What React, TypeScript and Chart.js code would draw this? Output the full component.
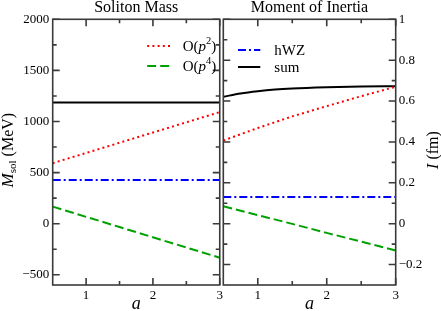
import React, { useEffect, useRef } from "react";
import { Chart, registerables } from "chart.js";
Chart.register(...registerables);

// ---------- data ----------
const A_POINTS = [0.5, 1, 1.5, 2, 2.5, 3];
const MASS_P2 = [592, 692, 792, 892, 992, 1092];
const MASS_P4 = [167, 67, -33, -133, -233, -333];
const MASS_HWZ = [428, 428, 428, 428, 428, 428];
const MASS_SUM = [1186, 1186, 1186, 1186, 1186, 1186];

const A_SUM_I = [0.5, 0.75, 1, 1.25, 1.5, 2, 2.5, 3];
const INERTIA_SUM = [0.621, 0.637, 0.648, 0.656, 0.661, 0.667, 0.671, 0.673];
const INERTIA_P2 = [0.407, 0.468, 0.525, 0.575, 0.624, 0.67];
const INERTIA_P4 = [0.085, 0.042, -0.001, -0.045, -0.088, -0.131];
const INERTIA_HWZ = [0.131, 0.131, 0.131, 0.131, 0.131, 0.131];

const X_TICKS = [1, 2, 3];
const X_MINOR = [1.5, 2.5];
const MASS_TICKS = [-500, 0, 500, 1000, 1500, 2000];
const MASS_MINOR = [-250, 250, 750, 1250, 1750];
const INERTIA_TICKS = [-0.2, 0, 0.2, 0.4, 0.6, 0.8, 1];
const INERTIA_MINOR = [-0.1, 0.1, 0.3, 0.5, 0.7, 0.9];

const TITLE_LEFT = "Soliton Mass";
const TITLE_RIGHT = "Moment of Inertia";

// ---------- styles ----------
const SERIF = "'Liberation Serif', 'Times New Roman', 'DejaVu Serif', serif";
const FRAME = "#3a3a3a";
const RED = "#ff0000";
const GREEN = "#00a000";
const BLUE = "#0000ff";
const BLACK = "#000000";
const DOT = [2, 3.2];
const DASH = [9, 4];
const DASHDOT = [8, 3, 2, 3];
const TICK_FONT = { family: SERIF, size: 13 };

const fmt = (v: number) => {
  let s: string;
  if (Number.isInteger(v)) s = String(v);
  else s = v.toFixed(1);
  return s.replace("-", "\u2212");
};

type Run = { t: string; font: string; dy?: number };

function drawRuns(ctx: CanvasRenderingContext2D, runs: Run[], x: number, y: number, center: boolean) {
  let total = 0;
  for (const r of runs) {
    ctx.font = r.font;
    total += ctx.measureText(r.t).width;
  }
  let cx = center ? x - total / 2 : x;
  for (const r of runs) {
    ctx.font = r.font;
    ctx.fillText(r.t, cx, y + (r.dy || 0));
    cx += ctx.measureText(r.t).width;
  }
}

function decorPlugin(cfg: any) {
  return {
    id: "decor",
    afterDraw(chart: any) {
      const { ctx, chartArea: ca } = chart;
      const xs = chart.scales.x;
      const ys = chart.scales.y;
      ctx.save();
      ctx.setLineDash([]);
      ctx.strokeStyle = FRAME;
      ctx.lineWidth = 1.6;
      ctx.strokeRect(ca.left, ca.top, ca.right - ca.left, ca.bottom - ca.top);
      const major = 7;
      const minor = 4;
      ctx.beginPath();
      const xt = (v: number, len: number) => {
        const px = xs.getPixelForValue(v);
        ctx.moveTo(px, ca.bottom);
        ctx.lineTo(px, ca.bottom - len);
        ctx.moveTo(px, ca.top);
        ctx.lineTo(px, ca.top + len);
      };
      const yt = (v: number, len: number) => {
        const py = ys.getPixelForValue(v);
        ctx.moveTo(ca.left, py);
        ctx.lineTo(ca.left + len, py);
        ctx.moveTo(ca.right, py);
        ctx.lineTo(ca.right - len, py);
      };
      X_TICKS.forEach((v) => xt(v, major));
      X_MINOR.forEach((v) => xt(v, minor));
      cfg.yTicks.forEach((v: number) => yt(v, major));
      cfg.yMinor.forEach((v: number) => yt(v, minor));
      ctx.stroke();

      // title
      ctx.fillStyle = "#000";
      ctx.textAlign = "center";
      ctx.textBaseline = "alphabetic";
      ctx.font = `16px ${SERIF}`;
      ctx.fillText(cfg.title, (ca.left + ca.right) / 2, 12);

      // x axis title
      ctx.font = `italic 18px ${SERIF}`;
      ctx.fillText("a", (ca.left + ca.right) / 2, 309);

      // legend
      ctx.textAlign = "left";
      cfg.legend.forEach((item: any) => {
        const ds = chart.data.datasets[item.index];
        ctx.save();
        ctx.strokeStyle = ds.borderColor;
        ctx.lineWidth = ds.borderWidth;
        ctx.setLineDash(ds.borderDash || []);
        ctx.beginPath();
        ctx.moveTo(ca.left + item.x0, item.y);
        ctx.lineTo(ca.left + item.x1, item.y);
        ctx.stroke();
        ctx.restore();
        ctx.fillStyle = "#000";
        ctx.textBaseline = "alphabetic";
        drawRuns(ctx, item.runs, ca.left + item.tx, item.y + 5, false);
      });

      // y axis title (rotated)
      ctx.save();
      ctx.translate(cfg.yTitleX, (ca.top + ca.bottom) / 2 + cfg.yTitleDy);
      ctx.rotate(-Math.PI / 2);
      ctx.textAlign = "left";
      ctx.textBaseline = "alphabetic";
      drawRuns(ctx, cfg.yTitle, 0, 5.5, true);
      ctx.restore();
      ctx.restore();
    },
  };
}

function series(xsArr: number[], ysArr: number[]) {
  return xsArr.map((x, i) => ({ x, y: ysArr[i] }));
}

function lineDs(label: string, data: any[], color: string, dash: number[], mono = false) {
  return {
    label,
    data,
    borderColor: color,
    backgroundColor: color,
    borderWidth: 2,
    borderDash: dash,
    pointRadius: 0,
    fill: false,
    tension: 0,
    cubicInterpolationMode: mono ? "monotone" : "default",
  };
}

function xScale() {
  return {
    type: "linear",
    min: 0.5,
    max: 3,
    grid: { display: false, drawTicks: false },
    border: { display: false },
    afterBuildTicks: (s: any) => {
      s.ticks = X_TICKS.map((v) => ({ value: v }));
    },
    afterFit: (s: any) => {
      s.height = 26;
    },
    ticks: {
      font: TICK_FONT,
      color: "#000",
      padding: 3,
      maxRotation: 0,
      autoSkip: false,
      callback: (v: number) => fmt(v),
    },
  };
}

const P2_RUNS = (n: string) => [
  { t: "O(", font: `15px ${SERIF}` },
  { t: "p", font: `italic 15px ${SERIF}` },
  { t: n, font: `10.5px ${SERIF}`, dy: -7 },
  { t: ")", font: `15px ${SERIF}` },
];

function LeftChart() {
  const ref = useRef<HTMLCanvasElement>(null);
  useEffect(() => {
    const chart = new Chart(ref.current as HTMLCanvasElement, {
      type: "line",
      data: {
        datasets: [
          lineDs("O(p2)", series(A_POINTS, MASS_P2), RED, DOT),
          lineDs("O(p4)", series(A_POINTS, MASS_P4), GREEN, DASH),
          lineDs("hWZ", series(A_POINTS, MASS_HWZ), BLUE, DASHDOT),
          lineDs("sum", series(A_POINTS, MASS_SUM), BLACK, []),
        ],
      } as any,
      options: {
        animation: false,
        responsive: false,
        devicePixelRatio: 1,
        layout: { padding: { top: 19.3, left: 0, right: 2.7, bottom: 0 } },
        plugins: { legend: { display: false }, tooltip: { enabled: false }, title: { display: false } },
        scales: {
          x: xScale(),
          y: {
            type: "linear",
            position: "left",
            min: -600,
            max: 2000,
            grid: { display: false, drawTicks: false },
            border: { display: false },
            afterBuildTicks: (s: any) => {
              s.ticks = MASS_TICKS.map((v) => ({ value: v }));
            },
            afterFit: (s: any) => {
              s.width = 52.7;
            },
            ticks: {
              font: TICK_FONT,
              color: "#000",
              padding: 3.5,
              callback: (v: number) => fmt(v),
            },
          },
        } as any,
      },
      plugins: [
        decorPlugin({
          title: TITLE_LEFT,
          yTicks: MASS_TICKS,
          yMinor: MASS_MINOR,
          yTitleX: 7,
          yTitleDy: -2,
          yTitle: [
            { t: "M", font: `italic 17px ${SERIF}` },
            { t: "sol", font: `11px ${SERIF}`, dy: 3 },
            { t: " (MeV)", font: `16px ${SERIF}` },
          ],
          legend: [
            { index: 0, x0: 94.5, x1: 120.5, y: 46, tx: 130, runs: P2_RUNS("2") },
            { index: 1, x0: 94.5, x1: 120.5, y: 66, tx: 130, runs: P2_RUNS("4") },
          ],
        }) as any,
      ],
    });
    return () => chart.destroy();
  }, []);
  return (
    <canvas
      ref={ref}
      width={226}
      height={311}
      style={{ position: "absolute", left: 0, top: 0, width: 226, height: 311 }}
    />
  );
}

function RightChart() {
  const ref = useRef<HTMLCanvasElement>(null);
  useEffect(() => {
    const chart = new Chart(ref.current as HTMLCanvasElement, {
      type: "line",
      data: {
        datasets: [
          lineDs("O(p2)", series(A_POINTS, INERTIA_P2), RED, DOT),
          lineDs("O(p4)", series(A_POINTS, INERTIA_P4), GREEN, DASH),
          lineDs("hWZ", series(A_POINTS, INERTIA_HWZ), BLUE, DASHDOT),
          lineDs("sum", series(A_SUM_I, INERTIA_SUM), BLACK, [], true),
        ],
      } as any,
      options: {
        animation: false,
        responsive: false,
        devicePixelRatio: 1,
        layout: { padding: { top: 19.3, left: 1.3, right: 0, bottom: 0 } },
        plugins: { legend: { display: false }, tooltip: { enabled: false }, title: { display: false } },
        scales: {
          x: xScale(),
          y: {
            type: "linear",
            position: "right",
            min: -0.3,
            max: 1,
            grid: { display: false, drawTicks: false },
            border: { display: false },
            afterBuildTicks: (s: any) => {
              s.ticks = INERTIA_TICKS.map((v) => ({ value: v }));
            },
            afterFit: (s: any) => {
              s.width = 45.3;
            },
            ticks: {
              font: TICK_FONT,
              color: "#000",
              padding: 3,
              callback: (v: number) => fmt(v),
            },
          },
        } as any,
      },
      plugins: [
        decorPlugin({
          title: TITLE_RIGHT,
          yTicks: INERTIA_TICKS,
          yMinor: INERTIA_MINOR,
          yTitleX: 432 - 222,
          yTitleDy: -2,
          yTitle: [
            { t: "I", font: `italic 17px ${SERIF}` },
            { t: " (fm)", font: `16px ${SERIF}` },
          ],
          legend: [
            { index: 2, x0: 14.7, x1: 37, y: 50, tx: 51, runs: [{ t: "hWZ", font: `15px ${SERIF}` }] },
            { index: 3, x0: 14.7, x1: 37, y: 67, tx: 51, runs: [{ t: "sum", font: `15px ${SERIF}` }] },
          ],
        }) as any,
      ],
    });
    return () => chart.destroy();
  }, []);
  return (
    <canvas
      ref={ref}
      width={219}
      height={311}
      style={{ position: "absolute", left: 222, top: 0, width: 219, height: 311 }}
    />
  );
}

export default function App() {
  return (
    <div style={{ position: "fixed", left: 0, top: 0, width: 441, height: 311, background: "#fff" }}>
      <LeftChart />
      <RightChart />
    </div>
  );
}
